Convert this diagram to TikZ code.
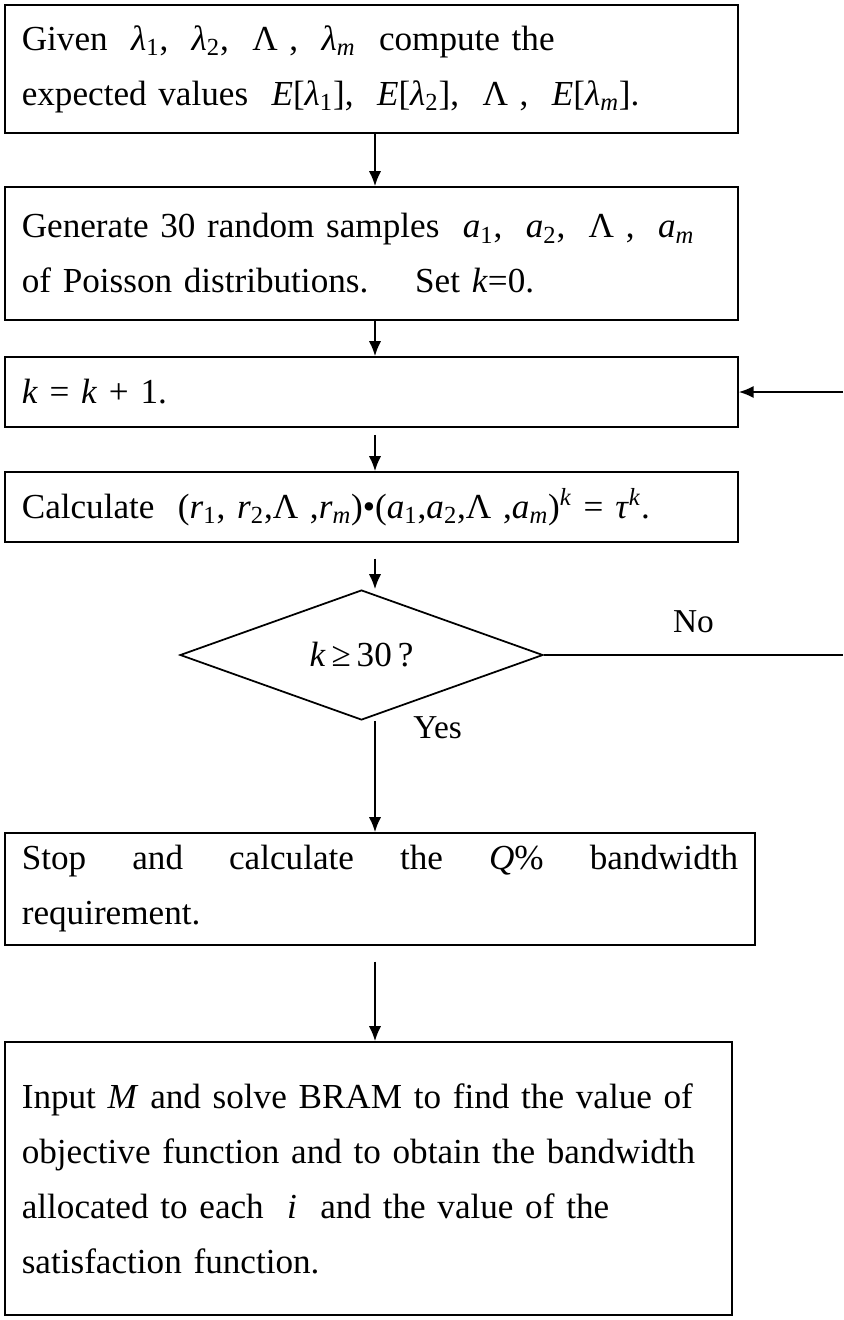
\documentclass[tikz,border=0pt]{standalone}
\usepackage{fontspec}
\setmainfont{Liberation Serif}
\usetikzlibrary{shapes.geometric,arrows.meta}
\newcommand{\vi}[1]{\textit{#1}}
\newcommand{\lo}[2]{#1\textsubscript{#2}}
\tikzset{
  stepbox/.style={draw, line width=1pt, rectangle, align=left, inner xsep=9.5pt,
    font=\fontsize{20}{31.3}\selectfont},
  askbox/.style={draw, line width=1pt, diamond, inner sep=0pt,
    minimum width=7.26cm, minimum height=2.6cm, font=\fontsize{20}{22}\selectfont},
  plain/.style={font=\fontsize{19}{22}\selectfont}
}
\begin{document}
\begin{tikzpicture}[x=0.02cm, y=-0.02cm, >={Latex[length=8.5pt,width=7pt]}, line width=1pt]
\useasboundingbox (0,0) rectangle (843,1320);

\node[stepbox, minimum width=14.66cm, minimum height=2.56cm, text width=13.99cm] (given) at (371.5,69)
  {Given~~\lo{\vi{λ}}{1},~~\lo{\vi{λ}}{2},~~Λ~,~~\lo{\vi{λ}}{\vi{m}}~~compute the\\
   expected values~~\vi{E}[\lo{\vi{λ}}{1}],~~\vi{E}[\lo{\vi{λ}}{2}],~~Λ~,~~\vi{E}[\lo{\vi{λ}}{\vi{m}}].};
\node[stepbox, minimum width=14.66cm, minimum height=2.66cm, text width=13.99cm] (gen) at (371.5,253.5)
  {Generate 30 random samples~~\lo{\vi{a}}{1},~~\lo{\vi{a}}{2},~~Λ~,~~\lo{\vi{a}}{\vi{m}}\\
   of Poisson distributions.~~~~Set \vi{k}=0.};
\node[stepbox, minimum width=14.66cm, minimum height=1.4cm, text width=13.99cm] (incr) at (371.5,392)
  {\vi{k} = \vi{k} + 1.};
\node[stepbox, minimum width=14.66cm, minimum height=1.4cm, text width=13.99cm] (calc) at (371.5,507)
  {Calculate~~(\lo{\vi{r}}{1}, \lo{\vi{r}}{2},Λ~,\lo{\vi{r}}{\vi{m}})•(\lo{\vi{a}}{1},\lo{\vi{a}}{2},Λ~,\lo{\vi{a}}{\vi{m}})\textsuperscript{\vi{k}} = \vi{τ}\textsuperscript{\vi{k}}.};
\node[askbox] (ask) at (361.5,655) {\vi{k}\,≥\,30\,?};
\node[stepbox, minimum width=15cm, minimum height=2.24cm, text width=14.33cm] (stop) at (380,889)
  {Stop\hfill and\hfill calculate\hfill the\hfill \vi{Q}\%\hfill bandwidth\hspace*{0.5cm}\\
   requirement.};
\node[stepbox, minimum width=14.54cm, minimum height=5.46cm, text width=13.87cm] (solve) at (368.5,1178.5)
  {Input \vi{M} and solve BRAM to find the value of\\
   objective function and to obtain the bandwidth\\
   allocated to each~~\vi{i}~~and the value of the\\
   satisfaction function.};

\coordinate (ax) at (375,0);
\coordinate (noout) at (843,655);
\coordinate (backin) at (843,392);

\draw[->] (given.south -| ax) -- (gen.north -| ax);
\draw[->] (gen.south -| ax) -- (incr.north -| ax);
\draw[->, shorten <=4pt] (incr.south -| ax) -- (calc.north -| ax);
\draw[->, shorten <=9pt] (calc.south -| ax) -- (ask.north -| ax);
\draw[->] (ask.south -| ax) -- (stop.north -| ax)
  node[plain, pos=0.06, right=18pt] {Yes};
\draw (ask.east) -- (noout) node[plain, midway, above=9pt] {No};
\draw[->] (backin) -- (incr.east);
\draw[->, shorten <=9pt] (stop.south -| ax) -- (solve.north -| ax);
\end{tikzpicture}
\end{document}
